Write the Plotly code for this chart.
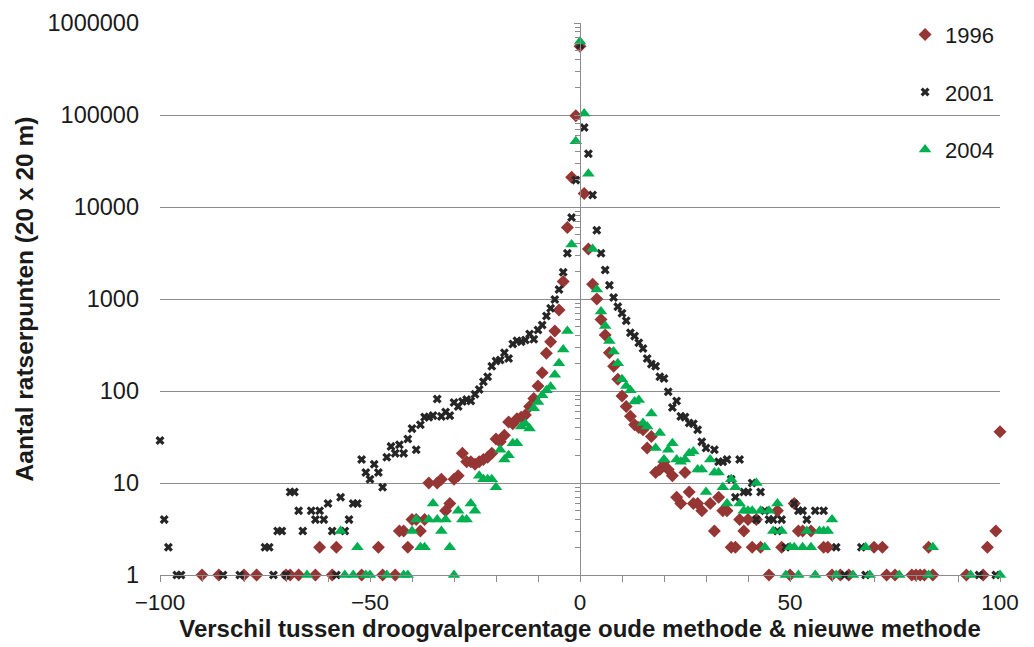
import plotly.graph_objects as go

# ---------------- data ----------------
x_1996 = [-90, -86, -80, -77, -70, -69, -67, -63, -62, -59, -58, -52, -48, -47, -44, -43, -42, -41, -40, -39,
          -38, -37, -36, -34, -33, -32, -31, -30, -29, -28, -27, -26, -25, -24, -23, -22, -21, -20, -19, -18,
          -17, -16, -15, -14, -13, -12, -11, -10, -9, -8, -7, -6, -5, -4, -3, -2, -1, 0,
          1, 2, 3, 4, 5, 6, 7, 8, 9, 10, 11, 12, 13, 14, 15, 16, 17, 18, 19, 20,
          21, 22, 23, 24, 25, 26, 27, 28, 29, 31, 32, 33, 34, 35, 36, 37, 38, 39, 40, 41,
          42, 43, 45, 47, 48, 50, 51, 52, 53, 55, 58, 59, 60, 62, 64, 70, 72, 73, 75, 79,
          80, 81, 82, 83, 84, 92, 96, 97, 99, 100]
y_1996 = [1, 1, 1, 1, 1, 1, 1, 1, 2, 1, 2, 1, 2, 1, 1, 3, 3, 2, 4, 4,
          3, 4, 10, 10, 11, 5, 6, 11, 12, 21, 17, 17, 16, 17, 18, 19, 21, 30, 28, 33,
          46, 44, 50, 52, 55, 68, 83, 113, 158, 257, 344, 449, 760, 1550, 6000, 21000, 98000, 560000,
          14000, 3500, 1450, 1000, 600, 405, 260, 186, 134, 88, 68, 53, 43, 40, 38, 24, 32, 13, 14, 17,
          14, 12, 7, 6, 13, 8, 6, 6, 5, 6, 3, 7, 5, 5, 2, 2, 4, 3, 4, 2,
          4, 2, 1, 5, 2, 1, 6, 3, 3, 3, 2, 2, 1, 1, 1, 2, 2, 1, 1, 1,
          1, 1, 1, 2, 1, 1, 1, 2, 3, 36]

x_2001 = [-100, -99, -98, -96, -95, -85, -81, -75, -74, -73, -72, -71, -70, -69, -68, -67, -66, -64, -63, -62,
          -61, -60, -59, -58, -57, -56, -55, -54, -53, -52, -51, -50, -49, -48, -47, -46, -45, -44, -43, -42,
          -41, -40, -39, -38, -37, -36, -35, -34, -33, -32, -31, -30, -29, -28, -27, -26, -25, -24, -23, -22,
          -21, -20, -19, -18, -17, -16, -15, -14, -13, -12, -11, -10, -9, -8, -7, -6, -5, -4, -3, -2, -1, 0,
          1, 2, 3, 4, 5, 6, 7, 8, 9, 10, 11, 12, 13, 14, 15, 16, 17, 18, 19, 20,
          21, 22, 23, 24, 25, 26, 27, 28, 29, 30, 32, 33, 34, 35, 36, 37, 38, 39, 40, 41,
          42, 43, 44, 45, 46, 47, 48, 49, 51, 52, 53, 54, 56, 58, 61, 63, 67, 68, 95, 99]
y_2001 = [29, 4, 2, 1, 1, 1, 1, 2, 2, 1, 3, 3, 1, 8, 8, 5, 3, 5, 4, 5,
          4, 6, 3, 1, 7, 3, 4, 6, 6, 18, 13, 11, 16, 13, 9, 19, 25, 21, 26, 21,
          30, 39, 23, 43, 52, 52, 54, 82, 53, 59, 54, 75, 68, 77, 81, 78, 92, 104, 126, 143,
          186, 212, 217, 261, 226, 324, 352, 344, 358, 416, 365, 460, 522, 653, 792, 990, 1270, 1950, 3140, 7700, 19600, 580000,
          73000, 38000, 13500, 5600, 3150, 2070, 1410, 1040, 826, 700, 580, 430, 395, 335, 290, 226, 196, 186, 143, 137,
          98, 66, 78, 53, 52, 45, 44, 38, 28, 24, 23, 17, 17, 18, 11, 7, 18, 8, 8, 10,
          4, 8, 5, 4, 4, 3, 4, 2, 6, 5, 5, 4, 5, 5, 2, 1, 2, 1, 1, 1]

x_2004 = [-65, -57, -56, -54, -53, -51, -50, -46, -42, -41, -40, -39, -38, -37, -36, -35, -34, -33, -32, -31,
          -30, -29, -28, -27, -26, -25, -24, -23, -22, -21, -20, -19, -18, -17, -16, -15, -14, -13, -12, -11,
          -10, -9, -8, -7, -6, -5, -4, -3, -2, -1, 0,
          1, 2, 3, 4, 5, 6, 7, 8, 9, 10, 11, 12, 13, 14, 15, 16, 17, 18, 19, 20,
          21, 22, 23, 24, 25, 26, 27, 28, 29, 30, 31, 32, 33, 34, 35, 36, 37, 38, 39, 40,
          41, 42, 43, 44, 45, 46, 47, 48, 49, 50, 51, 52, 53, 54, 55, 56, 57, 58, 59, 60,
          61, 65, 68, 69, 76, 83, 84, 93, 100]
y_2004 = [1, 3, 1, 1, 2, 1, 1, 1, 1, 1, 3, 4, 2, 2, 4, 6, 4, 3, 4, 2,
          1, 5, 4, 4, 6, 5, 12, 11, 11, 11, 9, 23, 18, 20, 27, 27, 41, 44, 39, 65,
          76, 90, 102, 111, 150, 200, 283, 450, 3900, 52000, 630000,
          104000, 23000, 3500, 1270, 730, 510, 350, 268, 200, 134, 113, 102, 77, 80, 45, 41, 57, 24, 35, 18,
          23, 27, 18, 17, 18, 21, 22, 14, 14, 8, 18, 13, 13, 9, 6, 11, 9, 6, 5, 5,
          5, 10, 5, 2, 5, 3, 6, 3, 1, 2, 2, 1, 2, 3, 2, 1, 3, 3, 3, 4,
          1, 1, 2, 1, 1, 1, 2, 1, 1]

series_names = ["1996", "2001", "2004"]
x_ticks = [-100, -50, 0, 50, 100]
y_ticks = [1, 10, 100, 1000, 10000, 100000, 1000000]
x_title = "Verschil tussen droogvalpercentage oude methode & nieuwe methode"
y_title = "Aantal ratserpunten (20 x 20 m)"

# ---------------- styling ----------------
FONT = "Liberation Sans, Arial, sans-serif"
GRID = "#8c8c8c"
TXT = "#1a1a1a"

fig = go.Figure()
fig.add_trace(go.Scatter(x=x_1996, y=y_1996, mode="markers", name=series_names[0],
                         legendgroup="a",
                         marker=dict(symbol="diamond", size=10, color="#963634"),
                         cliponaxis=False))
fig.add_trace(go.Scatter(x=x_2001, y=y_2001, mode="markers", name=series_names[1],
                         legendgroup="b",
                         marker=dict(symbol="x", size=8, color="#262626"),
                         cliponaxis=False))
fig.add_trace(go.Scatter(x=x_2004, y=y_2004, mode="markers", name=series_names[2],
                         legendgroup="c",
                         marker=dict(symbol="triangle-up", size=11, color="#00B050"),
                         cliponaxis=False))
# carrier for the vertical axis drawn at x = 0
fig.add_trace(go.Scatter(x=[None], y=[None], yaxis="y2", showlegend=False, hoverinfo="skip"))

minor_vals = [m * 10 ** e for e in range(6) for m in range(2, 10)]

fig.update_layout(
    width=1034, height=647,
    margin=dict(l=160, r=34, t=23, b=72, autoexpand=False),
    paper_bgcolor="white", plot_bgcolor="white",
    font=dict(family=FONT, size=22, color=TXT),
    showlegend=True,
    legend=dict(x=0.887, y=1.017, xanchor="left", yanchor="top",
                font=dict(family=FONT, size=22, color=TXT),
                tracegroupgap=26, traceorder="grouped",
                bgcolor="rgba(0,0,0,0)"),
    xaxis=dict(range=[-100, 100], autorange=False, automargin=False,
               tickmode="array", tickvals=x_ticks,
               ticks="outside", ticklen=6, tickcolor=GRID, tickwidth=1.3,
               minor=dict(dtick=10, ticks="outside", ticklen=6, tickcolor=GRID, tickwidth=1.3),
               showgrid=False, zeroline=False,
               showline=True, linecolor=GRID, linewidth=1.3,
               tickfont=dict(family=FONT, size=22.5, color=TXT),
               ticklabelstandoff=1,
               title=dict(text="<b>" + x_title + "</b>", standoff=5,
                          font=dict(family=FONT, size=24, color=TXT))),
    yaxis=dict(type="log", range=[0, 6], autorange=False, automargin=False,
               tickmode="array", tickvals=y_ticks, ticktext=[str(v) for v in y_ticks],
               ticks="", showline=False, zeroline=False,
               showgrid=True, gridcolor=GRID, gridwidth=1.3,
               tickfont=dict(family=FONT, size=23.5, color=TXT),
               ticklabelstandoff=20,
               title=dict(text="<b>" + y_title + "</b>", standoff=6,
                          font=dict(family=FONT, size=24.5, color=TXT))),
    yaxis2=dict(type="log", range=[0, 6], autorange=False, overlaying="y",
                anchor="free", position=0.5, side="left", automargin=False,
                tickmode="array", tickvals=y_ticks, ticks="outside", ticklen=6,
                tickcolor=GRID, tickwidth=1.3,
                minor=dict(tickmode="array", tickvals=minor_vals, ticks="outside",
                           ticklen=5, tickcolor=GRID, tickwidth=1.3),
                showticklabels=False, showgrid=False, zeroline=False,
                showline=True, linecolor=GRID, linewidth=1.3),
)

fig.write_html("out.html")
